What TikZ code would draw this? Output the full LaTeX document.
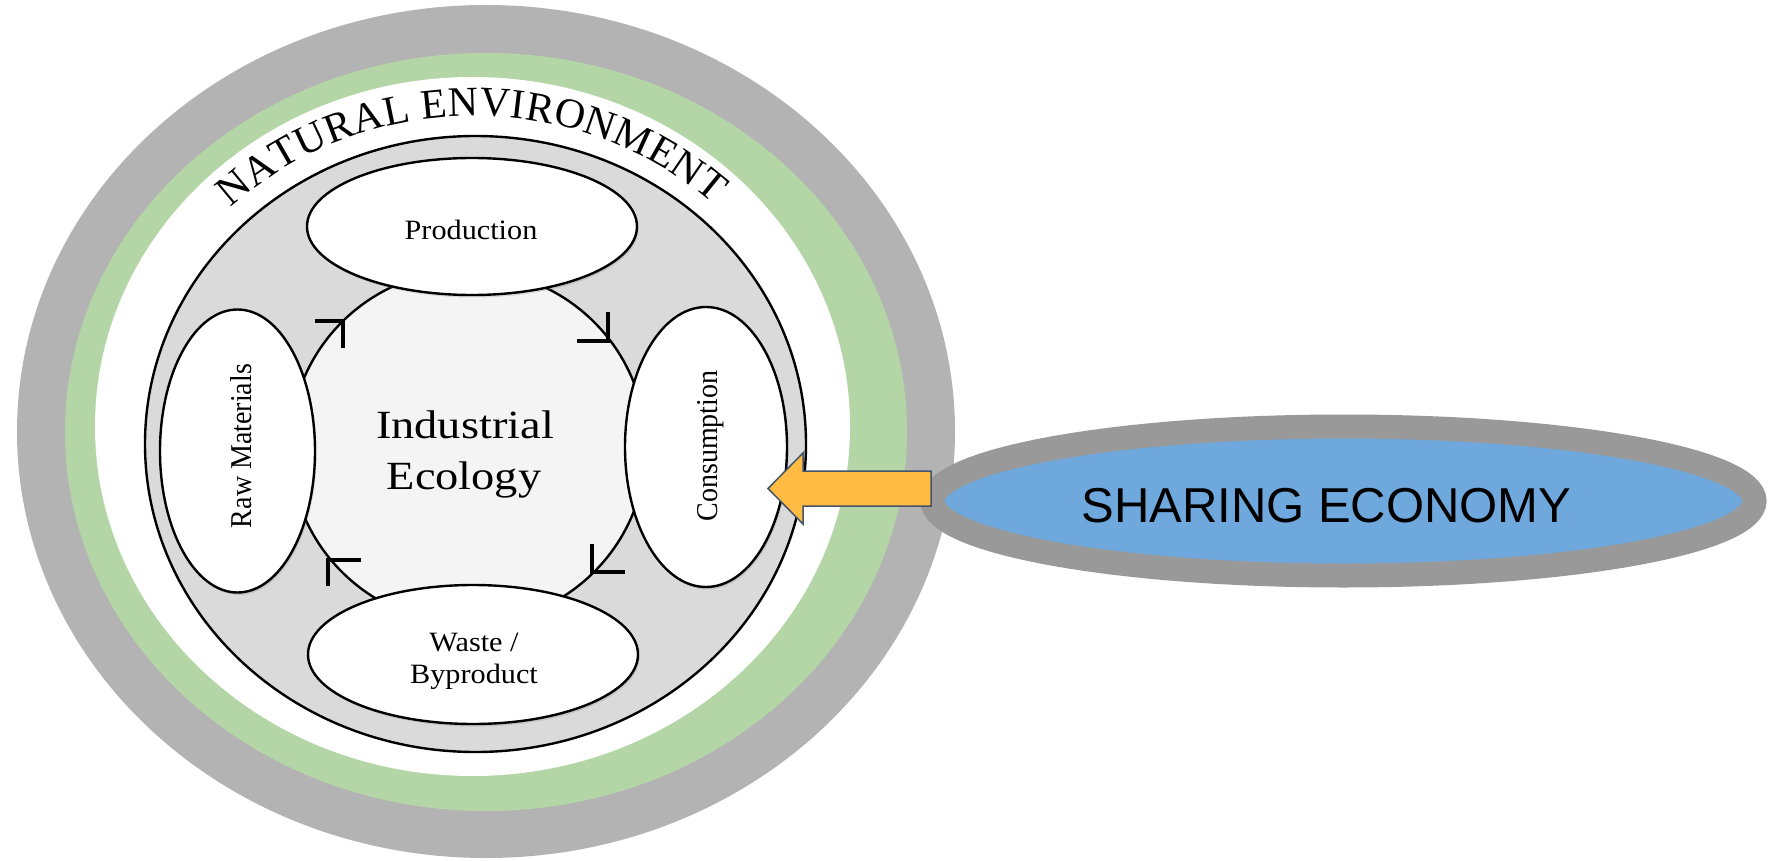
\documentclass[tikz,border=0pt]{standalone}
\usepackage{fontspec}
\setmainfont{Liberation Serif}
\newfontfamily\sharefont{Liberation Sans}
\usetikzlibrary{shapes.geometric,decorations.text,shadows}
\definecolor{ringgray}{HTML}{B3B3B3}
\definecolor{ringgreen}{HTML}{B4D6A7}
\definecolor{innergray}{HTML}{DADADA}
\definecolor{centerlight}{HTML}{F4F4F4}
\definecolor{sharegray}{HTML}{999999}
\definecolor{shareblue}{HTML}{6FA8DC}
\definecolor{arroworange}{HTML}{FFBB42}
\definecolor{arrowedge}{HTML}{44546A}
\begin{document}
\begin{tikzpicture}[x=1pt,y=-1pt,
  stage/.style={ellipse, draw=black, line width=2.4pt, fill=white, inner sep=0pt,
    drop shadow={opacity=0.25, shadow xshift=1.5pt, shadow yshift=-2.5pt}},
  serif/.style={inner sep=0pt, font=\fontsize{28}{28}\selectfont},
  bigserif/.style={inner sep=0pt, font=\fontsize{40}{40}\selectfont},
  marker/.style={line width=3.2pt, line cap=butt, line join=miter}
]
\useasboundingbox (0,0) rectangle (1774,861);
\fill[white] (0,0) rectangle (1774,861);
% rings
\fill[ringgray] (486,431.5) ellipse [x radius=469, y radius=426.5];
\fill[ringgreen] (486,432) ellipse [x radius=421, y radius=379];
\fill[white] (472.5,426.5) ellipse [x radius=377.5, y radius=349.5];
% industrial ecology disc
\filldraw[fill=innergray, draw=black, line width=2.4pt] (475.5,444) ellipse [x radius=330.5, y radius=308];
\filldraw[fill=centerlight, draw=black, line width=2.4pt] (468,447) ellipse [x radius=178, y radius=177];
% direction markers
\draw[marker] (315,321) -- (343,321) -- (343,348);
\draw[marker] (577,341) -- (608,341) -- (608,312);
\draw[marker] (592,544) -- (592,572) -- (625,572);
\draw[marker] (361,560) -- (328,560) -- (328,586);
% stages
\node[stage, minimum width=330, minimum height=137] (prod) at (472,226.5) {};
\node[stage, minimum width=155, minimum height=283] (raw) at (237.5,451) {};
\node[stage, minimum width=162, minimum height=280] (cons) at (706,447) {};
\node[stage, minimum width=330, minimum height=139] (waste) at (473,654.5) {};
% texts
\node[serif, anchor=base] (prodtext) at (471,240) {\scalebox{1.08}[1]{Production}};
\node[serif, anchor=base] (wastetext) at (474,651) {\scalebox{1.08}[1]{Waste /}};
\node[serif, anchor=base] (byprodtext) at (474,683) {\scalebox{1.08}[1]{Byproduct}};
\node[serif, anchor=base, rotate=90] (rawtext) at (251.5,446) {\scalebox{1}[1.08]{Raw Materials}};
\node[serif, anchor=base, rotate=90] (constext) at (717,446) {\scalebox{1}[1.08]{Consumption}};
\node[bigserif, anchor=base] (ietext1) at (465,438) {\scalebox{1.16}[1]{Industrial}};
\node[bigserif, anchor=base] (ietext2) at (464,489) {\scalebox{1.16}[1]{Ecology}};
% natural environment label
\path[decorate, decoration={text along path, text align={fit to path},
  text={|\fontsize{42}{42}\selectfont|NATURAL ENVIRONMENT}}]
  (474,444) ++(226:350 and 328) arc [start angle=226, end angle=313, x radius=350, y radius=328];
% sharing economy
\node[ellipse, draw=sharegray, line width=24pt, fill=shareblue, minimum width=822, minimum height=149, inner sep=0pt] (sharing) at (1343.5,501) {};
\node[anchor=base, inner sep=0pt, font=\sharefont\fontsize{49}{49}\selectfont] (sharetext) at (1326.5,522) {SHARING ECONOMY};
% block arrow
\coordinate (tip) at (768,488.5);
\filldraw[fill=arroworange, draw=arrowedge, line width=1.5pt, line join=miter]
  (tip) -- (803,453) -- (803,471) -- (931,471) -- (931,506) -- (803,506) -- (803,524) -- cycle;
\end{tikzpicture}
\end{document}
